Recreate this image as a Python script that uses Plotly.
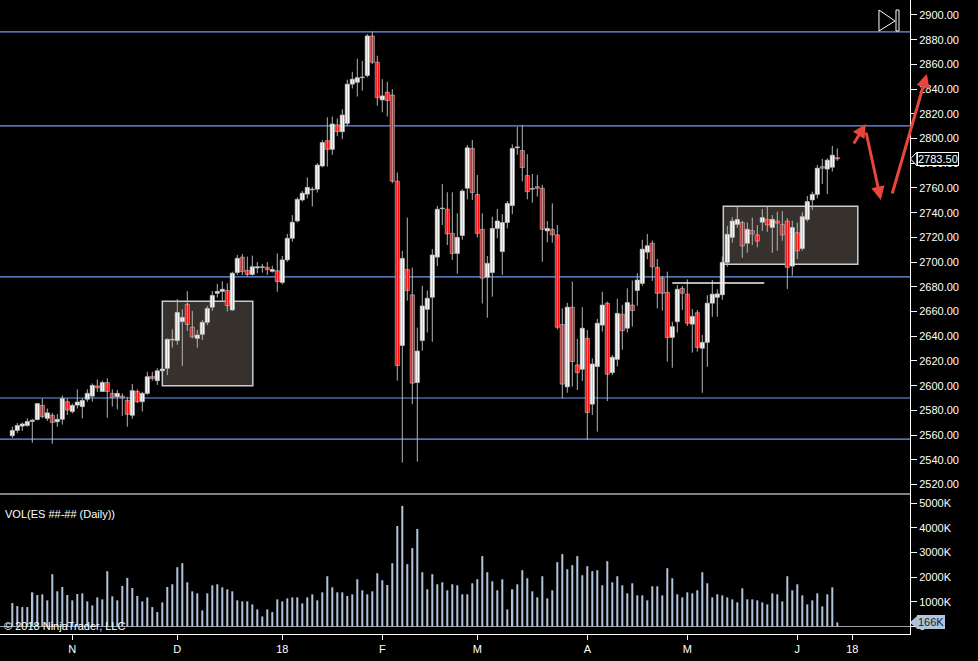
import plotly.graph_objects as go

# ES daily bars, one entry per session (bar number = x position)
opens = [2559.5, 2563.75, 2567.25, 2567.75, 2571.0, 2572.5, 2584.0, 2573.5, 2576.0, 2570.75,
         2572.75, 2587.0, 2579.0, 2584.25, 2583.0, 2589.0, 2591.5, 2599.75, 2595.25, 2602.5,
         2593.75, 2591.0, 2591.5, 2588.0, 2576.0, 2595.25, 2587.0, 2593.75, 2607.5, 2604.0,
         2612.0, 2614.0, 2637.0, 2636.5, 2651.75, 2665.75, 2647.25, 2638.25, 2641.5, 2651.25,
         2663.5, 2674.75, 2676.25, 2677.0, 2661.25, 2691.5, 2704.0, 2693.25, 2690.0, 2695.25,
         2695.75, 2695.75, 2692.5, 2693.0, 2683.5, 2701.75, 2719.25, 2733.25, 2750.25, 2755.0,
         2758.5, 2759.0, 2777.75, 2798.25, 2791.25, 2811.0, 2805.5, 2812.25, 2844.0, 2845.5,
         2849.25, 2851.0, 2883.0, 2861.75, 2831.25, 2837.5, 2835.25, 2765.5, 2632.5, 2694.0,
         2673.5, 2602.5, 2636.5, 2661.75, 2671.5, 2704.0, 2743.25, 2742.75, 2723.25, 2707.0,
         2721.5, 2759.75, 2792.0, 2754.75, 2726.5, 2687.75, 2691.5, 2727.25, 2708.5, 2732.0,
         2745.75, 2792.5, 2790.25, 2770.0, 2759.0, 2761.0, 2759.75, 2725.25, 2726.5, 2722.0,
         2649.5, 2599.0, 2663.5, 2616.75, 2613.25, 2638.25, 2585.0, 2615.5, 2649.0, 2666.75,
         2610.5, 2621.25, 2657.75, 2646.5, 2665.25, 2677.0, 2682.75, 2708.0, 2715.25, 2695.75,
         2687.0, 2675.5, 2639.0, 2651.75, 2678.75, 2674.0, 2649.75, 2659.0, 2630.25, 2635.0,
         2666.75, 2671.5, 2673.5, 2699.75, 2720.0, 2730.5, 2732.0, 2715.25, 2725.5, 2722.0,
         2732.25, 2734.5, 2728.0, 2733.25, 2730.5, 2733.25, 2696.75, 2723.75, 2711.0, 2734.5,
         2750.25, 2754.75, 2777.25, 2775.25, 2776.75, 2784.5]
highs = [2566.75, 2569.75, 2570.25, 2573.5, 2573.0, 2586.0, 2589.5, 2581.5, 2578.0, 2577.0,
         2592.0, 2589.75, 2585.5, 2597.0, 2589.75, 2597.0, 2601.75, 2605.0, 2604.0, 2606.0,
         2597.0, 2596.5, 2593.75, 2591.0, 2601.25, 2597.0, 2595.0, 2611.25, 2611.25, 2614.0,
         2614.75, 2638.25, 2645.5, 2670.0, 2661.75, 2676.5, 2660.5, 2645.0, 2653.0, 2664.5,
         2676.5, 2682.25, 2684.5, 2682.75, 2692.25, 2705.75, 2706.5, 2704.5, 2705.25, 2700.0,
         2698.5, 2700.0, 2697.0, 2707.0, 2705.0, 2722.75, 2738.0, 2752.25, 2757.5, 2768.5,
         2761.0, 2780.0, 2798.75, 2817.25, 2817.75, 2816.25, 2823.75, 2847.5, 2854.0, 2864.5,
         2862.75, 2884.5, 2886.5, 2867.0, 2848.0, 2846.0, 2840.0, 2772.5, 2709.0, 2736.0,
         2695.5, 2647.0, 2680.75, 2677.0, 2710.5, 2745.5, 2763.25, 2756.5, 2756.5, 2739.5,
         2759.0, 2794.75, 2798.75, 2770.5, 2739.5, 2705.0, 2736.75, 2743.0, 2738.75, 2749.5,
         2795.25, 2809.5, 2811.0, 2787.25, 2771.25, 2770.5, 2762.5, 2733.25, 2747.5, 2730.0,
         2662.5, 2667.0, 2684.25, 2637.75, 2663.5, 2645.0, 2622.0, 2654.0, 2676.0, 2668.0,
         2624.75, 2670.25, 2665.25, 2678.75, 2685.0, 2691.0, 2718.0, 2722.75, 2717.5, 2702.5,
         2688.75, 2692.25, 2651.75, 2681.5, 2680.75, 2686.0, 2662.0, 2661.25, 2641.0, 2673.25,
         2685.5, 2678.0, 2704.5, 2729.25, 2736.25, 2744.75, 2733.5, 2732.0, 2736.0, 2730.0,
         2743.0, 2744.75, 2738.0, 2740.75, 2741.25, 2735.5, 2733.5, 2732.0, 2740.25, 2753.5,
         2757.0, 2778.5, 2783.5, 2784.0, 2794.0, 2792.0]
lows = [2557.75, 2561.75, 2563.25, 2566.75, 2553.75, 2572.0, 2573.5, 2571.5, 2553.0, 2566.75,
        2568.5, 2576.25, 2577.5, 2581.5, 2573.5, 2587.0, 2587.0, 2595.0, 2595.0, 2574.0,
        2583.0, 2580.75, 2575.5, 2566.75, 2573.25, 2586.0, 2579.0, 2592.5, 2604.0, 2600.5,
        2611.25, 2608.5, 2630.75, 2633.0, 2616.0, 2644.25, 2638.25, 2630.75, 2637.0, 2649.0,
        2660.5, 2671.25, 2668.0, 2660.0, 2660.5, 2689.5, 2689.5, 2688.25, 2689.0, 2691.0,
        2691.5, 2689.5, 2691.5, 2676.0, 2682.0, 2700.25, 2716.5, 2732.0, 2749.0, 2751.5,
        2745.0, 2756.25, 2776.75, 2777.25, 2786.75, 2802.0, 2799.5, 2810.0, 2840.5, 2834.0,
        2838.75, 2849.5, 2860.25, 2826.5, 2821.25, 2817.75, 2763.75, 2604.0, 2537.75, 2668.75,
        2585.0, 2538.5, 2628.25, 2643.0, 2635.5, 2696.75, 2730.0, 2713.75, 2701.75, 2690.5,
        2718.0, 2750.75, 2750.25, 2720.0, 2666.5, 2655.0, 2672.0, 2719.25, 2689.5, 2727.25,
        2738.75, 2786.75, 2765.5, 2750.75, 2748.0, 2753.0, 2700.25, 2716.0, 2715.75, 2645.5,
        2589.75, 2594.25, 2599.25, 2596.5, 2603.75, 2556.0, 2576.25, 2562.75, 2643.75, 2587.5,
        2608.5, 2615.5, 2629.0, 2643.0, 2647.75, 2664.5, 2680.75, 2702.25, 2684.75, 2662.5,
        2660.75, 2619.5, 2614.5, 2643.0, 2661.25, 2648.25, 2626.75, 2627.5, 2594.25, 2615.25,
        2655.75, 2655.75, 2669.5, 2696.25, 2715.75, 2727.75, 2703.5, 2707.5, 2713.75, 2712.0,
        2725.25, 2724.5, 2707.5, 2709.25, 2717.25, 2678.25, 2689.0, 2702.5, 2709.25, 2732.75,
        2742.25, 2751.5, 2763.25, 2755.0, 2773.25, 2782.0]
closes = [2563.75, 2567.75, 2569.0, 2571.0, 2572.0, 2585.5, 2575.0, 2578.0, 2570.25, 2572.75,
          2589.5, 2580.25, 2584.0, 2586.75, 2588.0, 2593.75, 2600.25, 2598.25, 2602.5, 2595.25,
          2590.5, 2593.75, 2590.0, 2576.75, 2596.0, 2587.0, 2593.75, 2607.25, 2605.75, 2612.0,
          2613.5, 2637.5, 2637.5, 2659.25, 2655.25, 2649.5, 2639.5, 2641.0, 2651.25, 2662.5,
          2673.0, 2676.25, 2678.0, 2664.75, 2691.0, 2703.0, 2692.25, 2690.0, 2696.25, 2696.25,
          2696.25, 2694.0, 2694.0, 2684.25, 2701.75, 2719.25, 2732.25, 2750.75, 2755.75, 2760.5,
          2758.75, 2778.5, 2796.75, 2791.25, 2811.75, 2805.5, 2819.0, 2844.0, 2848.0, 2849.25,
          2849.75, 2883.0, 2861.75, 2833.0, 2834.5, 2830.75, 2765.5, 2616.25, 2703.0, 2677.0,
          2602.0, 2628.0, 2664.5, 2670.75, 2705.75, 2742.75, 2743.75, 2722.75, 2707.0, 2720.0,
          2757.5, 2792.5, 2756.25, 2723.25, 2687.0, 2699.0, 2727.25, 2733.25, 2732.0, 2747.5,
          2792.0, 2793.25, 2776.5, 2757.0, 2759.5, 2759.75, 2726.5, 2727.25, 2722.0, 2647.25,
          2601.25, 2663.5, 2619.5, 2610.5, 2646.5, 2578.25, 2617.5, 2650.5, 2665.25, 2609.25,
          2623.0, 2658.5, 2644.5, 2667.25, 2660.75, 2685.5, 2710.5, 2713.25, 2696.25, 2674.75,
          2674.75, 2639.0, 2647.75, 2678.0, 2674.75, 2650.5, 2656.0, 2631.0, 2635.0, 2666.75,
          2674.0, 2674.25, 2699.75, 2722.5, 2733.25, 2734.5, 2713.0, 2726.5, 2722.75, 2717.0,
          2736.0, 2730.0, 2734.5, 2731.5, 2722.0, 2695.75, 2728.0, 2709.0, 2736.75, 2749.0,
          2754.75, 2776.0, 2776.0, 2782.5, 2786.5, 2783.5]
# contracts per session, in thousands
volume_k = [952, 830, 789, 789, 1387, 1278, 1306, 1061, 2122, 1428,
            1605, 1278, 1061, 1319, 1346, 1020, 857, 1183, 1102, 2244,
            1224, 1061, 1646, 1972, 1564, 1238, 1020, 1183, 789, 585,
            979, 1605, 1714, 2407, 2570, 1795, 1428, 1346, 653, 1346,
            1673, 1714, 1591, 1510, 1428, 1061, 1020, 1020, 898, 694,
            408, 694, 585, 1102, 1020, 1142, 1183, 1183, 938, 1183,
            1306, 1061, 1387, 2040, 1591, 1387, 1387, 1238, 1306, 1918,
            1469, 1306, 1428, 2162, 1877, 1686, 2570, 4080, 4896, 2530,
            3182, 3958, 2203, 1510, 2122, 1714, 1795, 1469, 1714, 1673,
            1306, 1306, 1754, 1918, 2856, 2203, 1836, 1469, 1918, 694,
            1510, 1714, 2285, 1958, 1428, 1183, 2040, 1142, 1469, 2611,
            2938, 2326, 2489, 2856, 2081, 2448, 2244, 2285, 1673, 2652,
            1795, 2040, 1673, 1346, 1754, 1265, 1265, 1061, 1632, 1632,
            1265, 2366, 1958, 1306, 1183, 1387, 1346, 1469, 2203, 1754,
            1183, 1306, 1265, 1183, 1102, 979, 1550, 1102, 1102, 1061,
            979, 898, 1346, 1306, 1020, 2040, 1469, 1714, 1265, 898,
            1061, 1346, 816, 1306, 1591, 166]

month_pos = [12, 33, 54, 74, 93, 115, 135, 157, 168]
month_text = ['N', 'D', '18', 'F', 'M', 'A', 'M', 'J', '18']
vol_ticks = [0, 1000, 2000, 3000, 4000, 5000]
vol_text = ['0', '1000K', '2000K', '3000K', '4000K', '5000K']

# drawing objects from the chart
level_lines = [2886.25, 2810.25, 2688.0, 2590.0, 2556.75]
zones = [(30.0, 48.1, 2600.0, 2668.25), (142.2, 169.1, 2698.25, 2745.25)]
marker_line = (132.0, 150.4, 2683.0)
arrows = [((168.1, 2794.8), (170.7, 2811.8)),
          ((170.7, 2806.1), (173.7, 2750.3)),
          ((175.9, 2754.3), (182.9, 2852.3))]

FONT = 'Arial, Liberation Sans, sans-serif'
UP_COLOR = '#ffffff'
DOWN_COLOR = '#ff0000'
WICK_COLOR = '#b4b4b4'
LEVEL_COLOR = '#6f9cf0'

idx = list(range(len(opens)))

# wicks as one broken line
wick_x, wick_y = [], []
for i in idx:
    wick_x += [i, i, None]
    wick_y += [lows[i], highs[i], None]

body_base = [min(o, c) for o, c in zip(opens, closes)]
body_h = [max(abs(c - o), 0.5) for o, c in zip(opens, closes)]
body_col = [UP_COLOR if c >= o else DOWN_COLOR for o, c in zip(opens, closes)]

fig = go.Figure()

fig.add_trace(go.Scatter(
    x=wick_x, y=wick_y, mode='lines',
    line=dict(color=WICK_COLOR, width=1),
    hoverinfo='skip', showlegend=False, yaxis='y'
))
fig.add_trace(go.Bar(
    x=idx, y=body_h, base=body_base, width=0.84,
    marker=dict(color=body_col, opacity=1, line=dict(color='#c8c8c8', width=0.6)),
    showlegend=False, yaxis='y'
))
fig.add_trace(go.Bar(
    x=idx, y=volume_k, width=0.4,
    marker=dict(color='#b0c4de', line=dict(width=0)),
    showlegend=False, yaxis='y2'
))

shapes = []
for lvl in level_lines:
    shapes.append(dict(type='line', xref='paper', x0=0, x1=1, yref='y', y0=lvl, y1=lvl,
                       line=dict(color=LEVEL_COLOR, width=1.2), layer='below'))
for x0, x1, y0, y1 in zones:
    shapes.append(dict(type='rect', xref='x', yref='y', x0=x0, x1=x1, y0=y0, y1=y1,
                       fillcolor='#36312c', line=dict(color='#c8ccd0', width=1.5), layer='below'))
shapes.append(dict(type='line', xref='x', yref='y', x0=marker_line[0], x1=marker_line[1],
                   y0=marker_line[2], y1=marker_line[2],
                   line=dict(color='#f4f4ea', width=1.5)))
# panel separator
shapes.append(dict(type='line', xref='paper', yref='paper', x0=0, x1=1, y0=0.2208, y1=0.2208,
                   line=dict(color='white', width=1)))
# "go to end" button, top right
shapes.append(dict(type='path', xref='paper', yref='paper',
                   path='M 0.9659,0.9842 L 0.9659,0.9511 L 0.9835,0.9669 Z',
                   line=dict(color='white', width=1)))
shapes.append(dict(type='rect', xref='paper', yref='paper', x0=0.9846, x1=0.9879, y0=0.9511, y1=0.9842,
                   line=dict(color='white', width=1)))
# pointers of the last-value tags
shapes.append(dict(type='path', xref='paper', yref='y',
                   path='M 1.0005,2783.5 L 1.0075,2789.0 L 1.0075,2778.0 Z',
                   fillcolor='black', line=dict(color='white', width=1)))
shapes.append(dict(type='path', xref='paper', yref='y2',
                   path='M 1.0005,%d L 1.0075,%d L 1.0075,%d Z' % (volume_k[-1], volume_k[-1] + 230, volume_k[-1] - 230),
                   fillcolor='#b0c4de', line=dict(color='#b0c4de', width=1)))

annotations = []
for (tx, ty), (hx, hy) in arrows:
    annotations.append(dict(x=hx, y=hy, xref='x', yref='y', ax=tx, ay=ty, axref='x', ayref='y',
                            text='', showarrow=True, arrowhead=2, arrowsize=0.9, arrowwidth=3,
                            arrowcolor='#e8453c'))
annotations.append(dict(x=1.0072, y=closes[-1], xref='paper', yref='y', xanchor='left', yanchor='middle',
                        text='%.2f' % closes[-1], showarrow=False, bgcolor='black',
                        bordercolor='white', borderwidth=1, borderpad=0,
                        font=dict(family=FONT, size=11, color='white')))
annotations.append(dict(x=1.0072, y=volume_k[-1], xref='paper', yref='y2', xanchor='left', yanchor='middle',
                        text='%dK' % volume_k[-1], showarrow=False, bgcolor='#b0c4de',
                        bordercolor='#b0c4de', borderwidth=1, borderpad=0,
                        font=dict(family=FONT, size=11, color='#1a1a1a')))
annotations.append(dict(x=0.003, y=0.1899, xref='paper', yref='paper', xanchor='left', yanchor='middle',
                        text='VOL(ES ##-## (Daily))', showarrow=False,
                        font=dict(family=FONT, size=11, color='white')))
annotations.append(dict(x=0.002, y=0.0125, xref='paper', yref='paper', xanchor='left', yanchor='middle',
                        text='© 2018 NinjaTrader, LLC', showarrow=False,
                        font=dict(family=FONT, size=11, color='white')))

fig.update_layout(
    width=978, height=661,
    margin=dict(l=0, r=68, t=0, b=27, pad=0),
    paper_bgcolor='black', plot_bgcolor='black',
    barmode='overlay', showlegend=False,
    font=dict(family=FONT, size=11, color='white'),
    xaxis=dict(
        range=[-2.46, 179.54], anchor='y2',
        showgrid=False, zeroline=False,
        showline=True, linecolor='white', linewidth=1,
        ticks='outside', ticklen=5, tickcolor='white',
        tickvals=month_pos, ticktext=month_text,
        tickfont=dict(family=FONT, size=11, color='white')
    ),
    yaxis=dict(
        domain=[0.2208, 1], range=[2512.3, 2912.1], side='right', anchor='x',
        showgrid=False, zeroline=False,
        showline=True, linecolor='white', linewidth=1,
        ticks='outside', ticklen=6, tickcolor='white',
        tick0=2520, dtick=20, tickformat='.2f',
        tickfont=dict(family=FONT, size=11, color='white')
    ),
    yaxis2=dict(
        domain=[0, 0.2208], range=[-304, 5377], side='right', anchor='x',
        showgrid=False, zeroline=True, zerolinecolor='#a0a0a0', zerolinewidth=1,
        showline=True, linecolor='white', linewidth=1,
        ticks='outside', ticklen=6, tickcolor='white',
        tickvals=vol_ticks, ticktext=vol_text,
        tickfont=dict(family=FONT, size=11, color='white')
    ),
    shapes=shapes,
    annotations=annotations
)

# the page's default body margin would shift the chart by 8px
fig.write_html("out.html",
               config={'displayModeBar': False},
               post_script="document.body.style.margin='0';document.body.style.background='black';")
